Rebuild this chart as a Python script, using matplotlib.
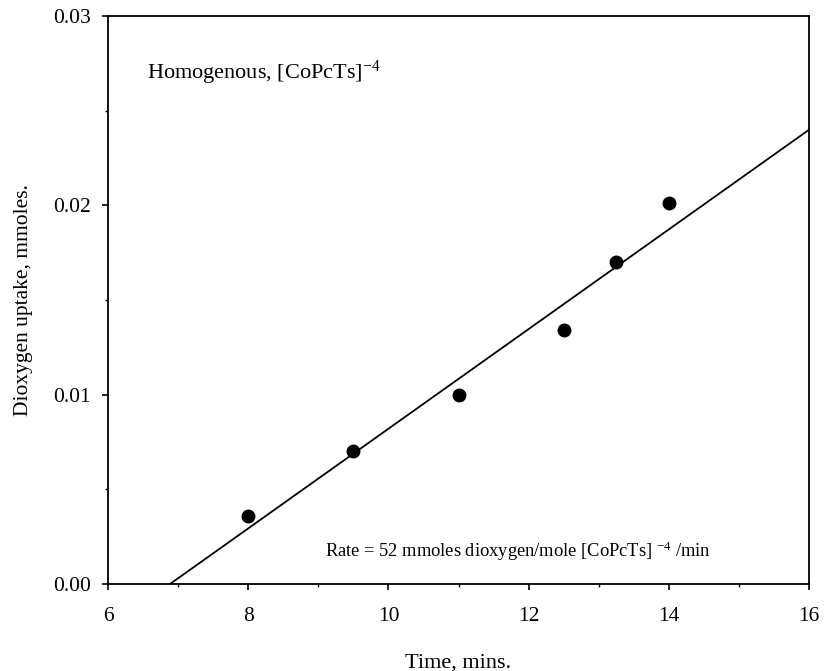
import matplotlib
matplotlib.use("Agg")
import matplotlib.pyplot as plt
from matplotlib.ticker import MultipleLocator, FormatStrFormatter

plt.rcParams['font.family'] = ['Liberation Serif', 'DejaVu Serif']
plt.rcParams['mathtext.fontset'] = 'custom'
plt.rcParams['mathtext.rm'] = 'Liberation Serif'
plt.rcParams['mathtext.it'] = 'Liberation Serif:italic'

# Data
time_min = [8.0, 9.5, 11.0, 12.5, 13.25, 14.0]
uptake_mmol = [0.0036, 0.0070, 0.0100, 0.0134, 0.0170, 0.0201]
fit_x = [6.89, 16.0]
fit_y = [0.0, 0.0240]

fig = plt.figure(figsize=(8.24, 6.71), dpi=100)
ax = fig.add_axes([0.131, 0.130, 0.851, 0.846])

ax.plot(fit_x, fit_y, color='black', lw=1.3)
ax.plot(time_min, uptake_mmol, 'o', color='black', ms=9)

ax.set_xlim(6, 16)
ax.set_ylim(0, 0.03)
ax.xaxis.set_major_locator(MultipleLocator(2))
ax.xaxis.set_minor_locator(MultipleLocator(1))
ax.yaxis.set_major_locator(MultipleLocator(0.01))
ax.yaxis.set_minor_locator(MultipleLocator(0.005))
ax.yaxis.set_major_formatter(FormatStrFormatter('%.2f'))
ax.tick_params(which='major', direction='out', length=4.5, width=1.2, labelsize=15.5)
ax.tick_params(axis='x', which='major', pad=12)
ax.tick_params(axis='y', which='major', pad=8)
ax.tick_params(which='minor', direction='out', length=2.5, width=1)
for s in ax.spines.values():
    s.set_linewidth(1.3)

ax.set_xlabel('Time, mins.', fontsize=16, labelpad=20)
ax.set_ylabel('Dioxygen uptake, mmoles.', fontsize=15.5, labelpad=14)

ax.text(6.55, 0.0267, r'Homogenous, [CoPcTs]$^{-4}$', fontsize=16, va='baseline')
ax.text(9.09, 0.00143, r'Rate = 52 mmoles dioxygen/mole [CoPcTs] $^{-4}$ /min',
        fontsize=13.3, va='baseline')

fig.savefig('out.png', dpi=100)
